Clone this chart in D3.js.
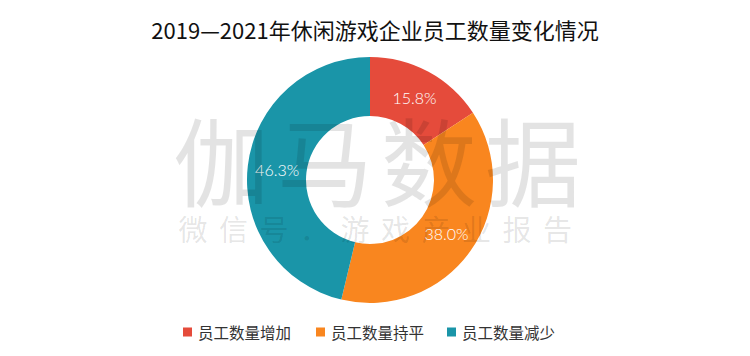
<!DOCTYPE html>
<html>
<head>
<meta charset="utf-8">
<script src="https://cdn.jsdelivr.net/npm/d3@7/dist/d3.min.js"></script>
<style>
  html, body { margin: 0; padding: 0; background: #fff; }
  svg { display: block; }
</style>
</head>
<body>
<svg id="chart" width="750" height="356"></svg>
<script>
const title = "2019—2021年休闲游戏企业员工数量变化情况";
const categories = ["员工数量增加", "员工数量持平", "员工数量减少"];
const values = [15.8, 38.0, 46.3];
const colors = ["#e54b3b", "#f9861f", "#1a95a8"];
const watermarkMain = "伽马数据";
const watermarkSub = "微信号．游戏产业报告";

const W = 750, H = 356;
const svg = d3.select("#chart");
svg.append("rect").attr("width", W).attr("height", H).attr("fill", "#fff");

svg.append("text")
  .attr("x", 375).attr("y", 29)
  .attr("text-anchor", "middle")
  .attr("dominant-baseline", "central")
  .attr("font-family", "'Noto Sans CJK SC', sans-serif")
  .attr("font-size", 22)
  .attr("fill", "#111")
  .text(title);

const cx = 370, cy = 180, outerR = 123, innerR = 64;
const data = categories.map((c, i) => ({ cat: c, value: values[i], color: colors[i] }));
const pie = d3.pie().value(d => d.value).sort(null);
const arc = d3.arc().innerRadius(innerR).outerRadius(outerR);
const arcs = pie(data);

const g = svg.append("g").attr("transform", `translate(${cx},${cy})`);
g.selectAll("path.slice").data(arcs).join("path")
  .attr("class", "slice")
  .attr("d", arc)
  .attr("fill", d => d.data.color);

g.selectAll("text.lbl").data(arcs).join("text")
  .attr("class", "lbl")
  .attr("transform", d => `translate(${arc.centroid(d)})`)
  .attr("text-anchor", "middle")
  .attr("dominant-baseline", "central")
  .attr("font-family", "Lato, sans-serif")
  .attr("font-weight", 300)
  .attr("font-size", 16)
  .attr("fill", "#fff")
  .text(d => d3.format(".1f")(d.data.value) + "%");

// watermark overlay
const wm = svg.append("g").attr("fill", "#000").attr("fill-opacity", 0.11)
  .attr("font-family", "'Noto Sans CJK SC', sans-serif").attr("font-weight", 400);
wm.append("text")
  .attr("x", 381).attr("y", 157)
  .attr("text-anchor", "middle")
  .attr("dominant-baseline", "central")
  .attr("font-size", 96)
  .attr("letter-spacing", 8)
  .text(watermarkMain);
wm.append("text")
  .attr("x", 381).attr("y", 228)
  .attr("text-anchor", "middle")
  .attr("dominant-baseline", "central")
  .attr("font-size", 29)
  .attr("letter-spacing", 11.5)
  .text(watermarkSub);

// legend
const legendX = [183, 316, 447];
const lg = svg.append("g");
const items = lg.selectAll("g").data(data).join("g")
  .attr("transform", (d, i) => `translate(${legendX[i]},332)`);
items.append("rect").attr("x", 0).attr("y", -4.5).attr("width", 9).attr("height", 9)
  .attr("fill", d => d.color);
items.append("text").attr("x", 15).attr("y", 0)
  .attr("dominant-baseline", "central")
  .attr("font-family", "'Noto Sans CJK SC', sans-serif")
  .attr("font-size", 15.5)
  .attr("fill", "#333")
  .text(d => d.cat);
</script>
</body>
</html>
